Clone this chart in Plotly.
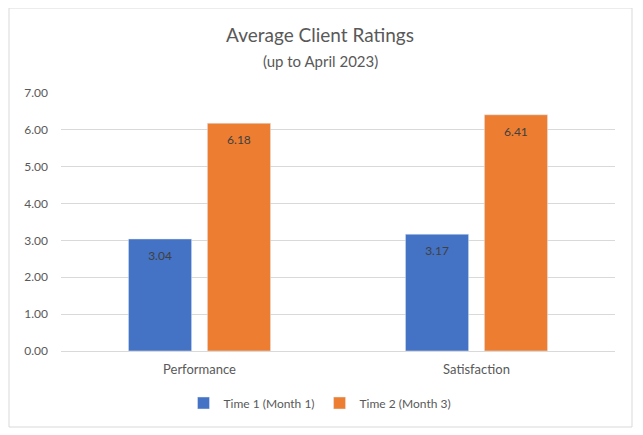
import plotly.graph_objects as go

categories = ["Performance", "Satisfaction"]
series_names = ["Time 1 (Month 1)", "Time 2 (Month 3)"]
time1 = [3.04, 3.17]
time2 = [6.18, 6.41]
colors = ["#4472C4", "#ED7D31"]

FONT = "Lato, 'Open Sans', sans-serif"

# page body has an 8px margin in the browser, so compensate
OFF = 8
L, R, T, B = 61, 615, 93, 351  # desired plot area in screenshot pixels
W, H = 643, 435
GAP = 0.43

fig = go.Figure()
for i, (name, vals, col) in enumerate(zip(series_names, [time1, time2], colors)):
    fig.add_trace(go.Bar(
        x=categories, y=vals, name=name, marker_color=col,
        offsetgroup=str(i),
    ))
for i, vals in enumerate([time1, time2]):
    fig.add_trace(go.Scatter(
        x=categories, y=vals, mode="markers+text", offsetgroup=str(i),
        text=[f"{v:.2f}" for v in vals], textposition="bottom center",
        marker=dict(size=18, opacity=0), showlegend=False, hoverinfo="skip",
        textfont=dict(family=FONT, size=12, color="#404040"),
        cliponaxis=False,
    ))

pw, ph = R - L, B - T
fig.update_layout(
    width=W, height=H,
    margin=dict(l=L - OFF, r=W + OFF - R, t=T - OFF, b=H + OFF - B, pad=0),
    paper_bgcolor="white", plot_bgcolor="white",
    barmode="group", bargap=GAP, bargroupgap=0.2,
    scattermode="group", scattergap=GAP,
    font=dict(family=FONT, color="#595959"),
    title=dict(text="Average Client Ratings", x=(320 - OFF) / W, xanchor="center",
               y=1 - (35 - OFF) / H, yanchor="middle", yref="container",
               font=dict(family=FONT, size=19, color="#595959")),
    showlegend=True,
    legend=dict(orientation="h", x=(320 - L) / pw, xanchor="center", y=(B - 403) / ph,
                yanchor="middle", font=dict(family=FONT, size=12, color="#595959"),
                itemwidth=30, tracegroupgap=0, bgcolor="rgba(0,0,0,0)"),
    annotations=[dict(text="(up to April 2023)", xref="paper", yref="paper",
                      x=(320 - L) / pw, y=(B - 61) / ph, xanchor="center", yanchor="middle",
                      showarrow=False, font=dict(family=FONT, size=15, color="#595959"))],
    shapes=[dict(type="rect", xref="paper", yref="paper",
                 x0=(9 - L) / pw, x1=(632 - L) / pw,
                 y0=(B - 427) / ph, y1=(B - 8) / ph,
                 line=dict(color="#D9D9D9", width=1), fillcolor="rgba(0,0,0,0)", layer="below")],
)

fig.update_yaxes(range=[0, 7], dtick=1, tickformat=".2f", showgrid=True,
                 gridcolor="#D9D9D9", gridwidth=1, zeroline=False, showline=False,
                 tickfont=dict(family=FONT, size=12, color="#595959"),
                 ticklabelstandoff=12)
fig.update_xaxes(showline=True, linecolor="#D9D9D9", linewidth=1,
                 tickfont=dict(family=FONT, size=13, color="#595959"),
                 ticklabelstandoff=6)

fig.write_html("out.html")
